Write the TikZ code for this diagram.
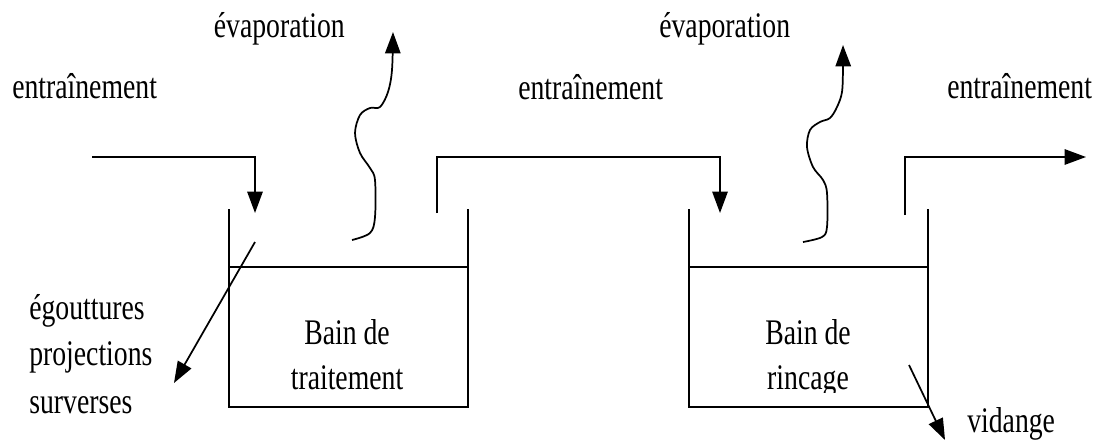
\documentclass[tikz,border=0pt]{standalone}
\usepackage{fontspec}
\setmainfont{Liberation Serif}[FakeStretch=0.77]
\usetikzlibrary{arrows.meta}
\begin{document}
\begin{tikzpicture}[x=0.75pt,y=-0.75pt,
  wall/.style={line width=1.3pt},
  flow/.style={line width=1.3pt,-{Triangle[length=16pt,width=11.5pt]}},
  vapour/.style={line width=1.3pt,line join=round,-{Triangle[length=16pt,width=11.5pt]}},
  lbl/.style={inner sep=0pt,font=\fontsize{27}{31}\selectfont}]
\useasboundingbox (0,0) rectangle (1098,443);

% labels
\node[lbl,anchor=base west] (entA) at (12,98) {entraînement};
\node[lbl,anchor=base east] (evapA) at (345,37) {évaporation};
\node[lbl,anchor=base west] (entB) at (518,99) {entraînement};
\node[lbl,anchor=base west] (evapB) at (659,37) {évaporation};
\node[lbl,anchor=base west] (entC) at (947,98) {entraînement};
\node[lbl,anchor=base west] (lossA) at (29,319) {égouttures};
\node[lbl,anchor=base west] (lossB) at (29,365) {projections};
\node[lbl,anchor=base west] (lossC) at (29,413) {surverses};
\node[lbl,anchor=base] (bathA1) at (347,344) {Bain de};
\node[lbl,anchor=base] (bathA2) at (347,389) {traitement};
\node[lbl,anchor=base] (bathB1) at (808,344) {Bain de};
\begin{scope}
  \clip (690,300) rectangle (927,392);
  \node[lbl,anchor=base] (bathB2) at (808,389) {rincage};
\end{scope}
\node[lbl,anchor=base west] (drain) at (967,432) {vidange};

% treatment tank
\coordinate (ta1) at (229,209);
\coordinate (ta2) at (229,407);
\coordinate (ta3) at (468,407);
\coordinate (ta4) at (468,209);
\coordinate (la1) at (229,267);
\coordinate (la2) at (468,267);
\draw[wall] (ta1) -- (ta2) -- (ta3) -- (ta4);
\draw[wall] (la1) -- (la2);

% rinse tank
\coordinate (tb1) at (689,209);
\coordinate (tb2) at (689,407);
\coordinate (tb3) at (928,407);
\coordinate (tb4) at (928,209);
\coordinate (lb1) at (689,267);
\coordinate (lb2) at (928,267);
\draw[wall] (tb1) -- (tb2) -- (tb3) -- (tb4);
\draw[wall] (lb1) -- (lb2);

% drag-out transfers
\coordinate (in0) at (92,157);
\coordinate (in1) at (255,157);
\coordinate (in2) at (255,213);
\draw[flow] (in0) -- (in1) -- (in2);

\coordinate (mid0) at (437,213);
\coordinate (mid1) at (437,157);
\coordinate (mid2) at (720,157);
\coordinate (mid3) at (720,213);
\draw[flow] (mid0) -- (mid1) -- (mid2) -- (mid3);

\coordinate (out0) at (905,215);
\coordinate (out1) at (905,157);
\coordinate (out2) at (1086,157);
\draw[flow] (out0) -- (out1) -- (out2);

% losses and drain
\coordinate (sp0) at (255,242);
\coordinate (sp1) at (174,383);
\draw[flow] (sp0) -- (sp1);
\coordinate (dr0) at (909,365);
\coordinate (dr1) at (945,440);
\draw[flow] (dr0) -- (dr1);

% evaporation
\draw[vapour] plot[smooth,tension=0.55] coordinates {
  (352,240) (370,233) (375,217) (375,180) (370,168) (360,153) (355,133)
  (360,115) (370,108) (380,107) (388,92) (392,70) (393,32)};
\draw[vapour] plot[smooth,tension=0.55] coordinates {
  (803,242) (822,237) (827,227) (827,193) (823,180) (813,167) (807,147)
  (810,130) (820,122) (830,118) (837,107) (842,92) (843,67) (843,45)};
\end{tikzpicture}
\end{document}
